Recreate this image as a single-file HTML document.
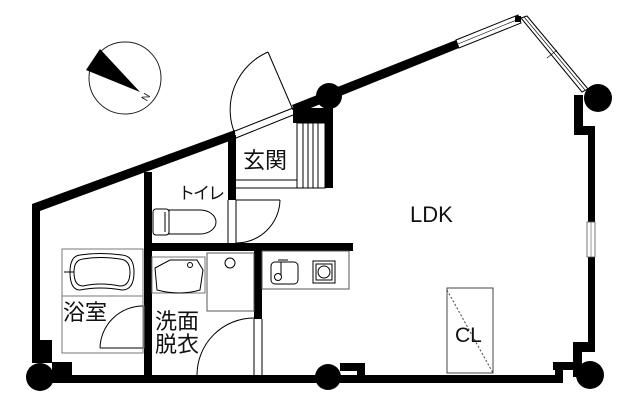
<!DOCTYPE html>
<html><head><meta charset="utf-8"><style>
html,body{margin:0;padding:0;background:#fff;width:640px;height:405px;overflow:hidden}
svg{display:block}
text{font-family:"Liberation Sans","Noto Sans CJK JP",sans-serif;fill:#111}
</style></head><body>
<svg width="640" height="405" viewBox="0 0 640 405" xmlns="http://www.w3.org/2000/svg">
<circle cx="125" cy="78" r="36" fill="#fff" stroke="#222" stroke-width="1"/>
<polygon points="100,49 86,70 140,92" fill="#000"/>
<text x="140" y="100" font-size="10" transform="rotate(-60 145 95)">N</text>

<g fill="#000">
<polygon points="32,204 235,130 235,139 40,211 40,343 32,343"/>
<rect x="32" y="340" width="20" height="23"/>
<circle cx="40" cy="377" r="14"/>
<rect x="52" y="362" width="20" height="21"/>
<rect x="63" y="375" width="300" height="8"/>
<rect x="340" y="363" width="25" height="8"/>
<rect x="357" y="363" width="8" height="20"/>
<circle cx="328" cy="377" r="13"/>
<rect x="358" y="375" width="205" height="8"/>
<rect x="553" y="362" width="22" height="8"/>
<rect x="555" y="362" width="8" height="21"/>
<rect x="573" y="342" width="9" height="35"/>
<rect x="573" y="342" width="22" height="10"/>
<rect x="588" y="128" width="7" height="94"/>
<rect x="588" y="257" width="7" height="90"/>
<rect x="574" y="95" width="9" height="40"/>
<rect x="574" y="126" width="21" height="9"/>
<circle cx="590" cy="375" r="14"/>
<circle cx="598" cy="98" r="14"/>
<polygon points="292,105 456,40 459,48 296,114"/>
<circle cx="329" cy="96" r="13"/>
<rect x="293" y="108" width="40" height="15"/>
<rect x="325" y="104" width="8" height="84"/>
<rect x="144" y="172" width="8" height="211"/>
<rect x="228" y="135" width="8" height="65"/>
<rect x="144" y="243" width="209" height="8"/>
<rect x="254" y="251" width="8" height="68"/>
</g>
<polygon points="456,40 518,15 521,23 459,48" fill="#fff" stroke="#000" stroke-width="1"/>
<line x1="458" y1="44" x2="519" y2="19" stroke="#000" stroke-width="0.6"/>
<rect x="515" y="16" width="6" height="6" fill="#000"/>
<polygon points="521,18 527,16 588,89 582,92" fill="#fff" stroke="#000" stroke-width="1"/>
<line x1="524" y1="17" x2="585" y2="90" stroke="#000" stroke-width="0.6"/>
<line x1="547" y1="58" x2="557" y2="50" stroke="#000" stroke-width="0.6"/>
<rect x="587" y="222" width="8" height="35" fill="#fff" stroke="#555" stroke-width="0.8"/>
<line x1="591" y1="222" x2="591" y2="257" stroke="#555" stroke-width="0.6"/>

<g fill="none" stroke="#000" stroke-width="1">
<line x1="235" y1="131" x2="293" y2="108"/>
<line x1="236" y1="138" x2="293" y2="115"/>
<line x1="293" y1="110" x2="268" y2="52"/>
<path d="M268,52 A63,63 0 0 0 235,134"/>
<rect x="297" y="123" width="28" height="65"/>
<line x1="303" y1="123" x2="303" y2="188"/>
<line x1="308" y1="123" x2="308" y2="188"/>
<line x1="313" y1="123" x2="313" y2="188"/>
<line x1="318" y1="123" x2="318" y2="188"/>
<line x1="236" y1="180" x2="297" y2="180"/>
<line x1="236" y1="188" x2="297" y2="188"/>
<line x1="228" y1="200" x2="228" y2="243"/>
<line x1="236" y1="200" x2="236" y2="243"/>
<line x1="236" y1="200" x2="280" y2="200"/>
<path d="M280,200 A44,44 0 0 1 236,243"/>
<rect x="153" y="209" width="16" height="26" rx="3"/>
<path d="M169,210 L200,210 A16,12 0 0 1 200,234 L169,234 Z"/>
<line x1="165" y1="212" x2="165" y2="232"/>
<rect x="62" y="249" width="81" height="104" stroke="#777"/>
<path d="M80,255 Q100,252 122,255 Q134,256 134,272 Q134,290 122,290 Q100,286 80,290 Q70,290 70,272 Q70,256 80,255 Z"/>
<path d="M83,259 Q100,256 120,259 Q130,260 130,272 Q130,286 120,286 Q100,282 83,286 Q74,286 74,272 Q74,260 83,259 Z"/>
<line x1="62" y1="296" x2="143" y2="296" stroke="#777"/>
<line x1="64" y1="272" x2="74" y2="272"/>
<line x1="143" y1="306" x2="151" y2="306"/>
<line x1="100" y1="348" x2="143" y2="348"/>
<path d="M143,306 A43,43 0 0 0 100,348"/>
<rect x="143" y="306" width="1" height="42" stroke="#777"/>
<rect x="152" y="257" width="53" height="36" stroke="#777"/>
<path d="M155,268 L170,260 L197,260 L203,270 L200,290 Q180,296 157,290 Z"/>
<circle cx="190" cy="265" r="2.5"/>
<rect x="207" y="253" width="47" height="58" stroke="#555"/>
<circle cx="230" cy="263" r="5"/>
<line x1="254" y1="319" x2="254" y2="378"/>
<line x1="262" y1="319" x2="262" y2="378"/>
<path d="M254,318 A57,57 0 0 0 197,375"/>
<rect x="262" y="251" width="87" height="38" stroke="#555"/>
<rect x="271" y="262" width="27" height="22" rx="4"/>
<circle cx="278" cy="277" r="3.5"/>
<line x1="281" y1="262" x2="281" y2="275"/>
<line x1="278" y1="260" x2="288" y2="260"/>
<rect x="313" y="261" width="22" height="22"/>
<rect x="316" y="264" width="16" height="16"/>
<circle cx="324" cy="272" r="6"/>
<rect x="447" y="288" width="46" height="85" stroke="#444"/>
<line x1="447" y1="290" x2="493" y2="373" stroke="#444" stroke-dasharray="2,2"/>
</g>

<text x="243" y="168" font-size="22">玄関</text>
<text x="178" y="199" font-size="17" letter-spacing="-2">トイレ</text>
<text x="410" y="222" font-size="22">LDK</text>
<text x="63" y="320" font-size="22">浴室</text>
<text x="155" y="329" font-size="22">洗面</text>
<text x="155" y="352" font-size="22">脱衣</text>
<text x="455" y="342" font-size="21">CL</text>
</svg>
</body></html>
